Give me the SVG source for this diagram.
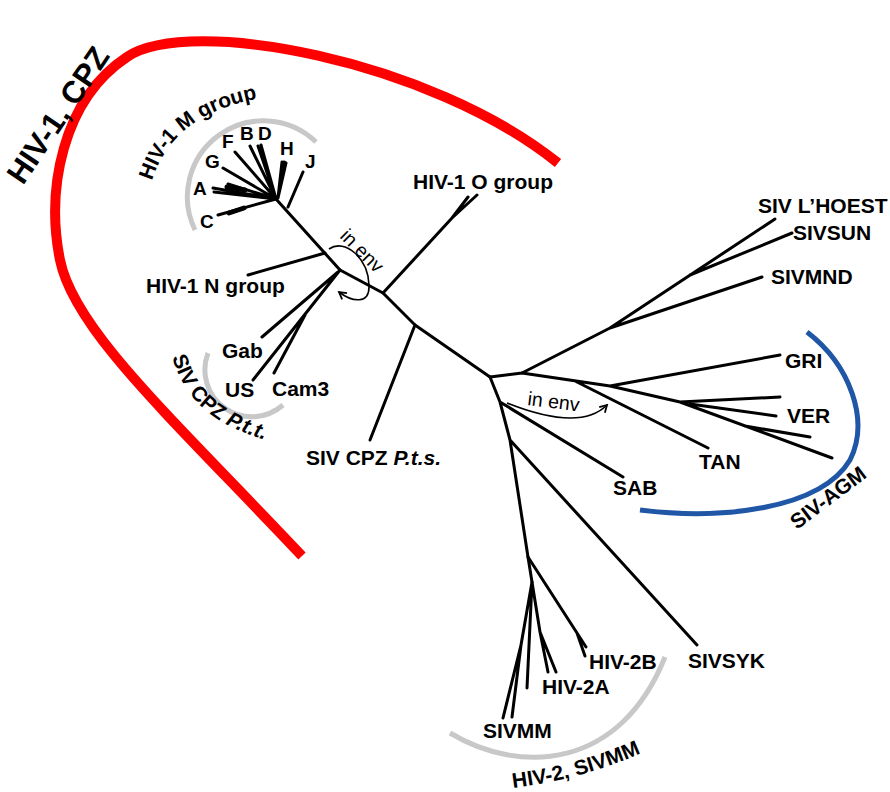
<svg xmlns="http://www.w3.org/2000/svg" width="890" height="792" viewBox="0 0 890 792">
<defs>
<style>
text{font-family:"Liberation Sans",Arial,sans-serif;font-weight:bold;fill:#000}
.lb{font-size:21px}
.sm{font-size:19px}
.big{font-size:31px}
.env{font-size:19.5px;font-weight:normal}
.br{stroke:#000;stroke-width:3;fill:none;stroke-linecap:round;stroke-linejoin:round}
.wd{stroke-width:5}
.red{stroke:#ff0000;stroke-width:10;fill:none}
.grey{stroke:#c8c8c8;stroke-width:5;fill:none}
.blue{stroke:#1f56a5;stroke-width:5;fill:none}
.ar{stroke:#000;stroke-width:1.6;fill:none}
</style>
<marker id="ah" viewBox="0 0 10 10" refX="8" refY="5" markerWidth="10" markerHeight="10" orient="auto" markerUnits="userSpaceOnUse">
<path d="M1,1 L8,5 L1,9" fill="none" stroke="#000" stroke-width="1.8"/>
</marker>
<path id="pM" d="M152,181 C166,135 203,106 273,96"/>
<path id="pPtt" d="M172,357 C186,402 215,432 300,448"/>
<path id="pH2" d="M513,788 Q592,778 656,746"/>
</defs>
<rect width="890" height="792" fill="#fff"/>

<g id="clade-arcs">
<path class="red" d="M302,556 C172,418 74,330 60,260 C46,190 62,100 127,57 C190,15 430,60 558,163"/>
<path class="grey" d="M195,230 A76,76 0 0 1 316,142"/>
<path class="grey" d="M208,353 A47,47 0 0 0 283,405"/>
<path class="grey" d="M450,733 C520,775 620,770 665,657"/>
<path class="blue" d="M807,332 C850,365 870,420 850,460 C820,510 720,520 640,510"/>
</g>

<g id="connectors">
<path class="br" d="M276,199 L340,270 L383,293 L415,325 L490,377"/>
<path class="br" d="M276,199 L218,215 M276,199 L213,188 M276,199 L214,192 M276,199 L228,184 M276,199 L223,168 M276,199 L235,152 M276,199 L250,146 M276,199 L258,146 M276,199 L261,145 M278,198 L282,162 M278,198 L286,163 M288,207 L303,172"/>
<path class="br wd" d="M244,208 L229,213 M245,190 L227,187 M283,170 L284,163"/>
<path class="br" d="M325,253 L248,275"/>
<path class="br" d="M340,270 L253,380 M305,315 L274,373 M338,272 L262,337"/>
<path class="br" d="M383,293 L452,218 L477,195 M452,218 L468,197"/>
<path class="br" d="M415,325 L370,440"/>
<path class="br" d="M490,377 L522,373 L610,328 L775,219 M690,275 L792,233 M610,328 L762,277"/>
<path class="br" d="M522,373 L610,386 L780,355 M610,386 L680,402 L832,458 M680,402 L780,397 M690,404 L776,416 M745,426 L810,437 M575,381 L708,448"/>
<path class="br" d="M490,377 L500,402 L510,440 L528,557 L532,582 M500,402 L623,477 M510,440 L697,645"/>
<path class="br" d="M528,557 L577,633 L586,647 M577,633 L585,656 M532,582 L540,632 L548,672 M540,632 L556,672 M532,582 L527,688 M532,582 L521,645 L503,718 M521,645 L512,717"/>
<path class="ar" marker-end="url(#ah)" d="M329,249 C345,238 368,258 369,285 C370,305 352,302 339,292"/>
<path class="ar" marker-end="url(#ah)" d="M507,403 Q580,432 607,405"/>
</g>

<g id="hiv1-cpz"><text class="big" transform="translate(23,186) rotate(-56)">HIV-1, CPZ</text></g>
<g id="hiv1-m-group"><text class="lb" font-size="20"><textPath href="#pM">HIV-1 M group</textPath></text></g>
<g id="subtype-a"><text class="sm" x="193" y="195">A</text></g>
<g id="subtype-b"><text class="sm" x="240" y="140">B</text></g>
<g id="subtype-c"><text class="sm" x="200" y="228">C</text></g>
<g id="subtype-d"><text class="sm" x="258" y="140">D</text></g>
<g id="subtype-f"><text class="sm" x="222" y="148">F</text></g>
<g id="subtype-g"><text class="sm" x="205" y="168">G</text></g>
<g id="subtype-h"><text class="sm" x="280" y="155">H</text></g>
<g id="subtype-j"><text class="sm" x="305" y="168">J</text></g>
<g id="hiv1-n-group"><text class="lb" x="146" y="293">HIV-1 N group</text></g>
<g id="hiv1-o-group"><text class="lb" x="413" y="189">HIV-1 O group</text></g>
<g id="gab"><text class="lb" x="222" y="358">Gab</text></g>
<g id="us"><text class="lb" x="225" y="397">US</text></g>
<g id="cam3"><text class="lb" x="272" y="396">Cam3</text></g>
<g id="siv-cpz-ptt"><text class="lb"><textPath href="#pPtt">SIV CPZ <tspan font-style="italic">P.t.t.</tspan></textPath></text></g>
<g id="siv-cpz-pts"><text class="lb" x="306" y="465">SIV CPZ <tspan font-style="italic">P.t.s.</tspan></text></g>
<g id="env-left"><text class="env" transform="translate(339,237) rotate(45)">in env</text></g>
<g id="env-right"><text class="env" transform="translate(527,405) rotate(7)">in env</text></g>
<g id="siv-lhoest"><text class="lb" x="758" y="213">SIV L’HOEST</text></g>
<g id="sivsun"><text class="lb" x="793" y="240">SIVSUN</text></g>
<g id="sivmnd"><text class="lb" x="771" y="284">SIVMND</text></g>
<g id="gri"><text class="lb" x="785" y="368">GRI</text></g>
<g id="ver"><text class="lb" x="787" y="423">VER</text></g>
<g id="tan"><text class="lb" x="699" y="469">TAN</text></g>
<g id="sab"><text class="lb" x="613" y="495">SAB</text></g>
<g id="siv-agm"><text class="lb" transform="translate(797,530) rotate(-37)">SIV-AGM</text></g>
<g id="sivsyk"><text class="lb" x="688" y="668">SIVSYK</text></g>
<g id="hiv-2b"><text class="lb" x="589" y="669">HIV-2B</text></g>
<g id="hiv-2a"><text class="lb" x="542" y="694">HIV-2A</text></g>
<g id="sivmm"><text class="lb" x="483" y="738">SIVMM</text></g>
<g id="hiv2-sivmm"><text class="lb"><textPath href="#pH2">HIV-2, SIVMM</textPath></text></g>
</svg>
